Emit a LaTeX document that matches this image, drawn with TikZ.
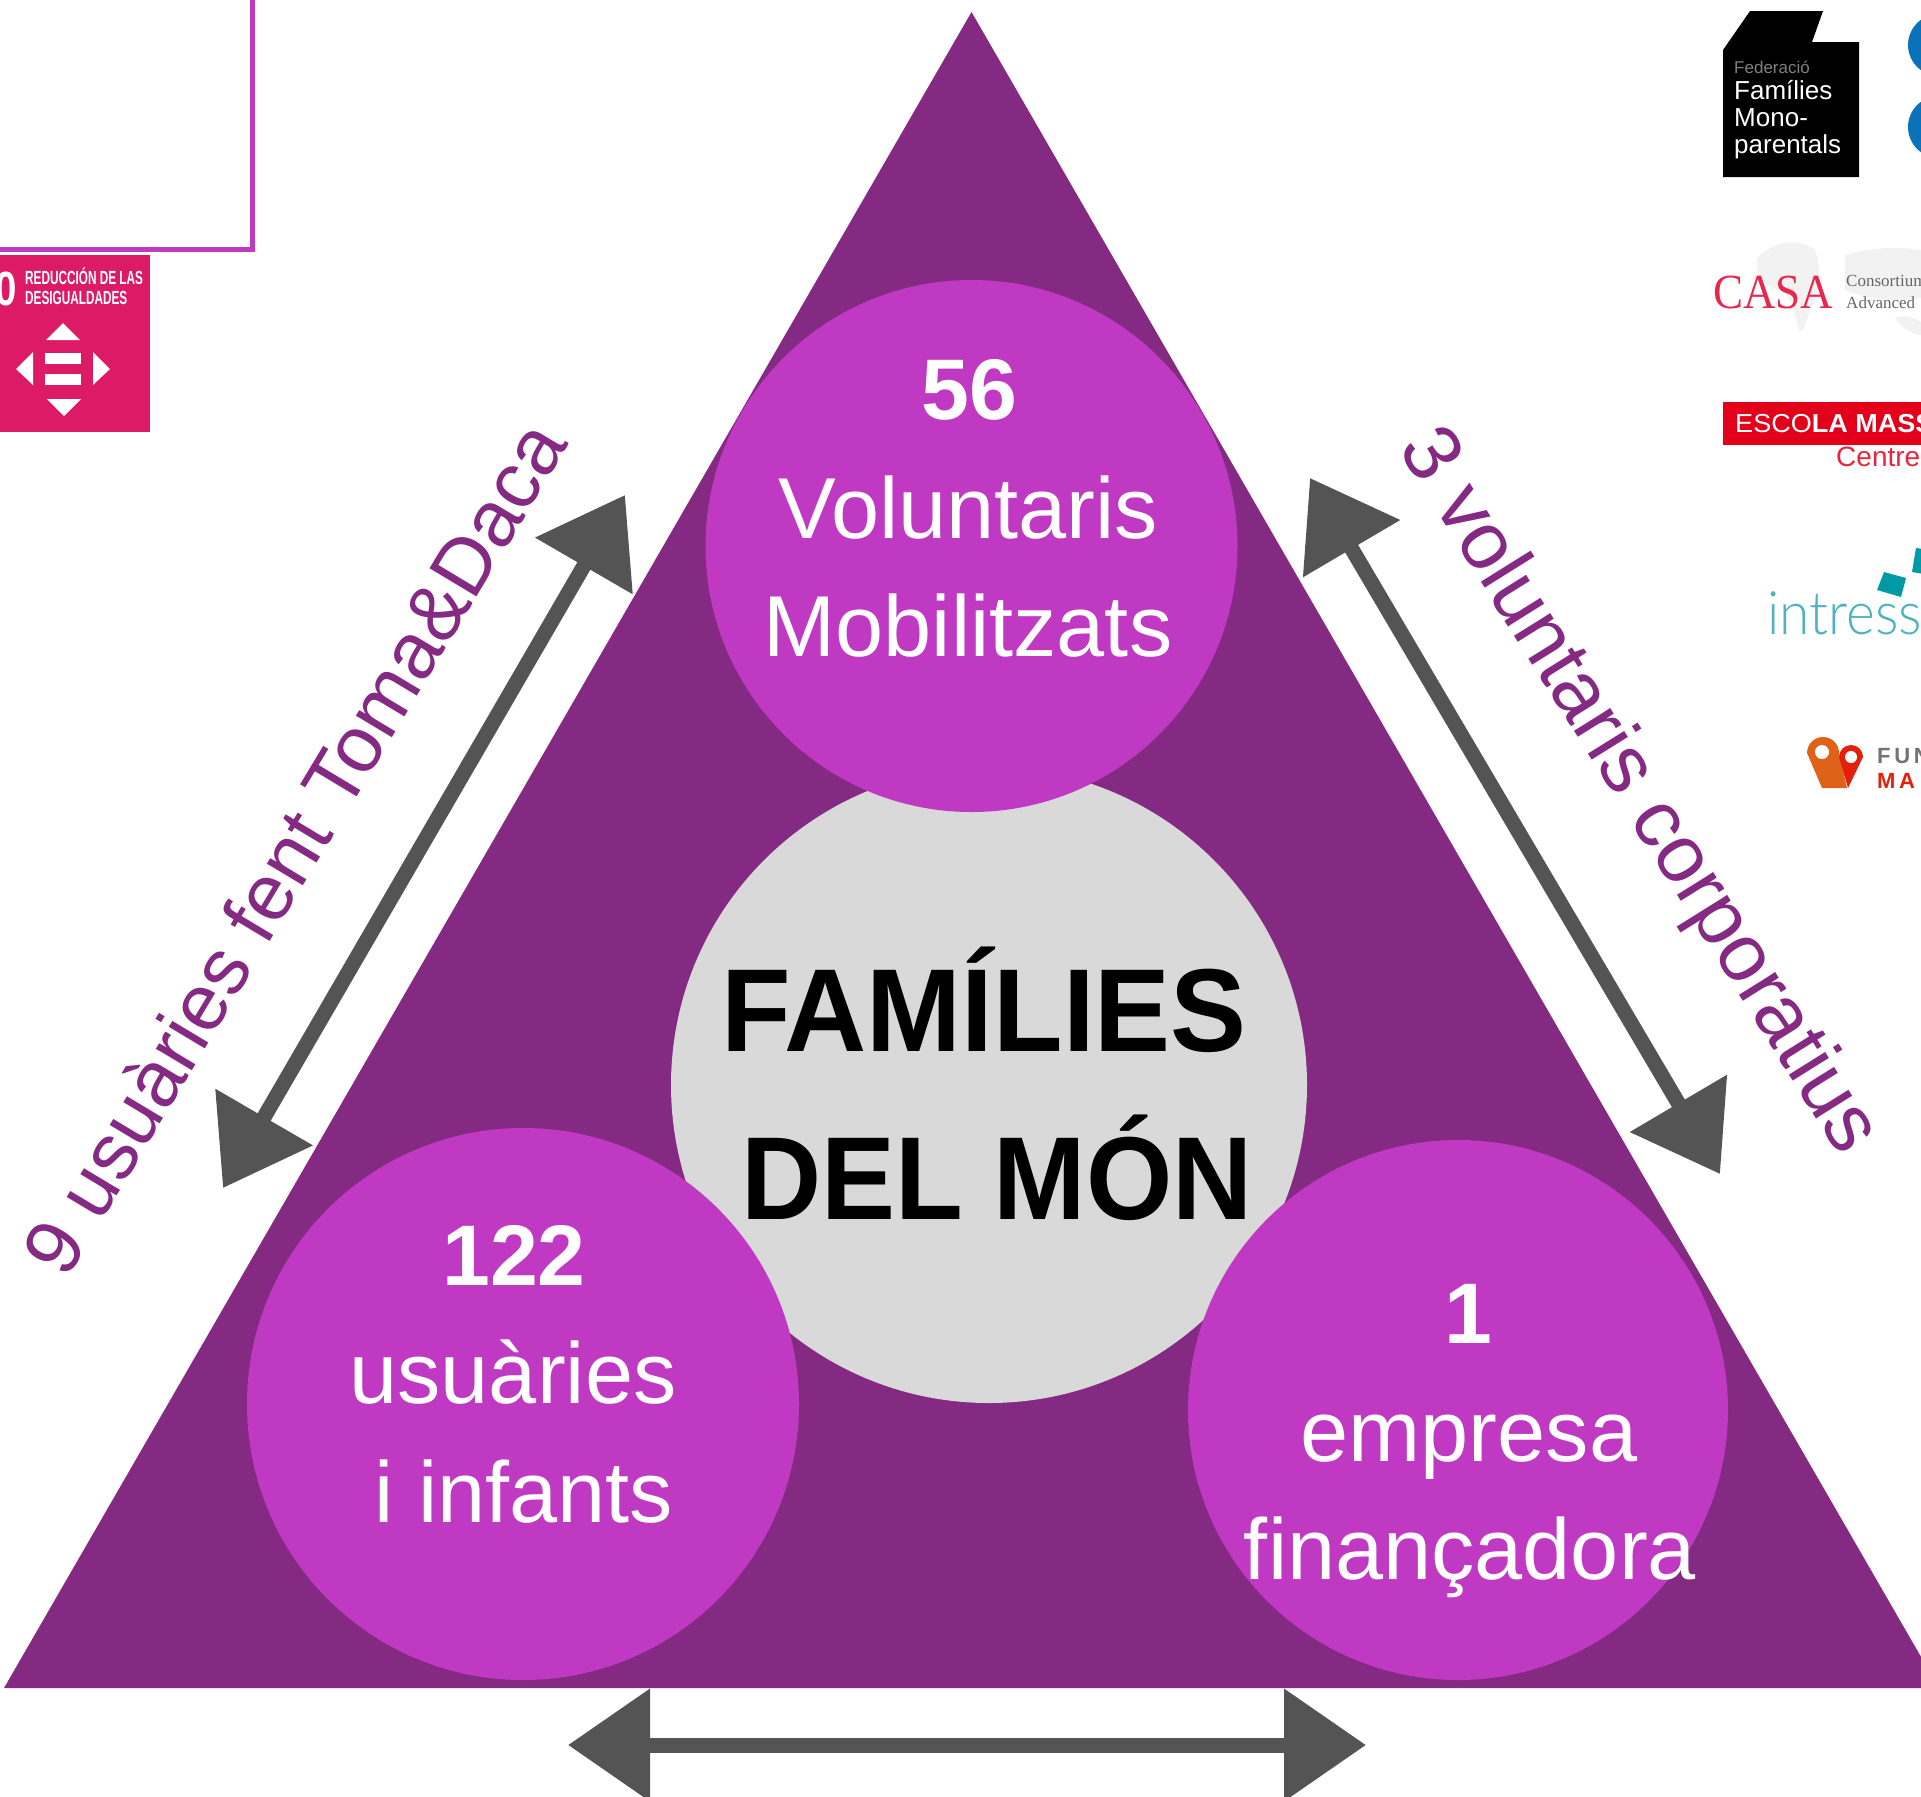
\documentclass[tikz,border=0pt]{standalone}
\usepackage{fontspec}
\setmainfont{Liberation Sans}
\newfontfamily\casafont{Liberation Serif}
\newfontfamily\thinfont{Lato Light}
\usetikzlibrary{arrows.meta}
\definecolor{tri}{HTML}{852A83}
\definecolor{circ}{HTML}{BF39C3}
\definecolor{core}{HTML}{D9D9D9}
\definecolor{arrowgrey}{HTML}{545454}
\definecolor{sdg}{HTML}{DD1A66}
\definecolor{casared}{HTML}{E8274F}
\definecolor{escred}{HTML}{E2001A}
\definecolor{teal1}{HTML}{009AA6}
\definecolor{teal2}{HTML}{4FB3BF}
\definecolor{orangepin}{HTML}{DE6318}
\definecolor{redpin}{HTML}{E2200C}
\definecolor{bluelogo}{HTML}{0A72B8}
\tikzset{
  x=1pt,y=-1pt,
  bubble/.style={circle,fill=circ,draw=none,minimum size=#1,inner sep=0pt},
  bubbletext/.style={anchor=base,text=white,inner sep=0pt,font=\fontsize{86.5}{87}\selectfont},
  bubblenum/.style={anchor=base,text=white,inner sep=0pt,font=\fontsize{86}{86}\selectfont\bfseries},
  coretext/.style={anchor=base,text=black,inner sep=0pt,font=\fontsize{118}{118}\selectfont\bfseries},
  bigarrow/.style={draw=arrowgrey,line width=15pt,{Triangle[length=82pt,width=109pt,fill=arrowgrey]}-{Triangle[length=82pt,width=109pt,fill=arrowgrey]}},
  logotext/.style={inner sep=0pt,anchor=base west},
}
\begin{document}
\begin{tikzpicture}
\useasboundingbox (0,0) rectangle (1921,1796);
\clip (0,0) rectangle (1921,1796);
% frame
\draw[circ,line width=5pt] (-10,249.5) -- (252,249.5) -- (252,-10);
% SDG tile
\fill[sdg] (0,255) rectangle (150,432);
\node[logotext,text=white,font=\fontsize{48}{48}\selectfont\bfseries] (sdgnum) at (-5,305) {\scalebox{0.8}[1]{0}};
\node[logotext,text=white,font=\fontsize{19}{19}\selectfont\bfseries] (sdga) at (25,284) {\scalebox{0.62}[1]{REDUCCIÓN DE LAS}};
\node[logotext,text=white,font=\fontsize{19}{19}\selectfont\bfseries] (sdgb) at (25,304) {\scalebox{0.62}[1]{DESIGUALDADES}};
\fill[white] (63,323) -- (80,340) -- (46,340) -- cycle;
\fill[white] (64,416) -- (81,399) -- (47,399) -- cycle;
\fill[white] (16,369) -- (33,352) -- (33,385) -- cycle;
\fill[white] (110,369) -- (93,352) -- (93,385) -- cycle;
\fill[white] (45,353) rectangle (81,364);
\fill[white] (45,374) rectangle (81,385);
% logos
\fill[black] (1723,50) -- (1750,11) -- (1823,11) -- (1812,42) -- (1859,42) -- (1859,177) -- (1723,177) -- cycle;
\node[logotext,text=black!50,font=\fontsize{17}{17}\selectfont] (fm0) at (1734,73) {Federació};
\node[logotext,text=white,font=\fontsize{26}{26}\selectfont] (fm1) at (1734,99) {Famílies};
\node[logotext,text=white,font=\fontsize{26}{26}\selectfont] (fm2) at (1734,126) {Mono-};
\node[logotext,text=white,font=\fontsize{26}{26}\selectfont] (fm3) at (1734,153) {parentals};
\fill[bluelogo] (1939,45) circle (31);
\fill[bluelogo] (1939,127) circle (31);
% CASA
\fill[black!5] (1757,258) .. controls (1775,240) and (1800,238) .. (1815,250) .. controls (1825,275) and (1815,300) .. (1805,325) .. controls (1795,348) and (1800,300) .. (1780,290) .. controls (1760,285) and (1755,270) .. (1757,258) -- cycle;
\fill[black!5] (1845,255) .. controls (1880,245) and (1905,248) .. (1921,250) -- (1921,298) .. controls (1900,303) and (1870,300) .. (1845,290) -- cycle;
\fill[black!5] (1895,318) .. controls (1905,314) and (1915,318) .. (1921,322) -- (1921,335) .. controls (1910,335) and (1900,325) .. (1895,318) -- cycle;
\node[logotext,text=casared,font=\casafont\fontsize{49}{49}\selectfont] (casa) at (1713,308) {\scalebox{0.92}[1]{CASA}};
\node[logotext,text=black!60,font=\casafont\fontsize{17}{17}\selectfont] (casa1) at (1846,286) {Consortium};
\node[logotext,text=black!60,font=\casafont\fontsize{17}{17}\selectfont] (casa2) at (1846,308) {Advanced};
% Escola
\fill[escred] (1723,402) rectangle (1925,445);
\node[logotext,text=white,font=\fontsize{26}{26}\selectfont] (esc) at (1735,432) {\scalebox{1.04}[1]{ESCO\textbf{LA MASS}}};
\node[logotext,text=escred!85,font=\fontsize{28}{28}\selectfont] (esc2) at (1836,466) {Centre};
% intress
\fill[teal1] (1877,590) -- (1884,572) -- (1906,578) -- (1901,597) -- cycle;
\fill[teal1] (1912,572) -- (1916,548) -- (1930,550) -- (1930,575) -- cycle;
\node[logotext,text=teal2,font=\thinfont\fontsize{60}{60}\selectfont] (intress) at (1767,634) {\scalebox{0.92}[1]{intress}};
% Fun map
\fill[orangepin] (1807,753) arc[start angle=180,end angle=360,radius=16] -- (1847,788) -- (1822,788) -- cycle;
\fill[redpin] (1839,757) arc[start angle=180,end angle=360,radius=12] -- (1848,788) -- cycle;
\fill[white] (1822,752) circle (7);
\fill[white] (1851,757) circle (6);
\node[logotext,text=black!55,font=\fontsize{22}{22}\selectfont\bfseries] (fun) at (1877,763) {F\,U\,N};
\node[logotext,text=redpin,font=\fontsize{22}{22}\selectfont\bfseries] (ma) at (1877,788) {M\,A};
% triangle
\fill[tri] (971.5,12) -- (4,1688) -- (1939,1688) -- cycle;
% circles
\node[circle,fill=core,minimum size=636pt,inner sep=0pt] (centre) at (989,1085) {};
\node[bubble=532pt] (top) at (971.5,546) {};
\node[bubble=552pt] (left) at (523,1404) {};
\node[bubble=540pt] (right) at (1458,1410) {};
% texts
\node[bubblenum] (t1) at (969,419) {56};
\node[bubbletext] (t2) at (968,538) {Voluntaris};
\node[bubbletext] (t3) at (968,656) {Mobilitzats};
\node[bubblenum] (l1) at (514,1285) {122};
\node[bubbletext] (l2) at (513,1403) {usuàries};
\node[bubbletext] (l3) at (524,1522) {i infants};
\node[bubblenum] (r1) at (1468,1343) {1};
\node[bubbletext] (r2) at (1469,1461) {empresa};
\node[bubbletext] (r3) at (1470,1579) {finançadora};
\node[coretext] (c1) at (984,1051) {\scalebox{0.965}[1]{FAMÍLIES}};
\node[coretext] (c2) at (997,1219) {\scalebox{0.94}[1]{DEL MÓN}};
% side labels
\node[text=tri,inner sep=0pt,font=\fontsize{79.5}{80}\selectfont,rotate=59] (sl) at (293,847) {9 usuàries fent Toma\&Daca};
\node[text=tri,inner sep=0pt,font=\fontsize{81}{81}\selectfont,rotate=-58] (sr) at (1637,792) {3 voluntaris corporatius};
% arrows
\coordinate (al1) at (625,495);
\coordinate (al2) at (223,1188);
\coordinate (ar1) at (1310,478);
\coordinate (ar2) at (1720,1174);
\coordinate (ab1) at (568,1745);
\coordinate (ab2) at (1366,1745);
\draw[bigarrow] (al1) -- (al2);
\draw[bigarrow] (ar1) -- (ar2);
\draw[bigarrow] (ab1) -- (ab2);
\end{tikzpicture}
\end{document}
